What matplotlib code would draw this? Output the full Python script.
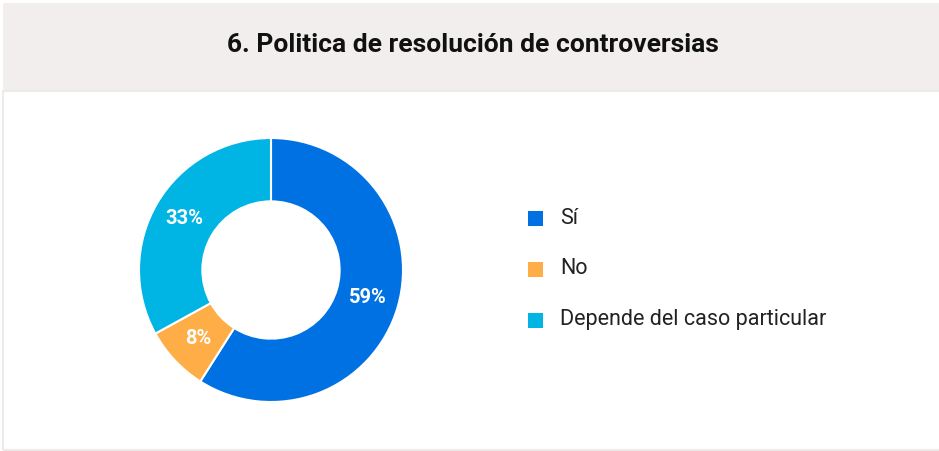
import numpy as np
import matplotlib
import matplotlib.pyplot as plt
from matplotlib.patches import Rectangle

matplotlib.rcParams['font.family'] = ['Roboto', 'DejaVu Sans']

# data
labels = ['Sí', 'No', 'Depende del caso particular']
values = [59, 8, 33]
colors = ['#0071e3', '#ffad46', '#00b4e4']
title = '6. Politica de resolución de controversias'

W, H = 939, 451
fig = plt.figure(figsize=(W / 100, H / 100), dpi=100)
fig.patch.set_facecolor('white')

# header band and thin frame
fig.patches.append(Rectangle((3 / W, (H - 92) / H), 1 - 3 / W, 89 / H,
                             transform=fig.transFigure, facecolor='#f1eeed',
                             edgecolor='none', zorder=0))
fig.patches.append(Rectangle((3 / W, 1 / H), 1, (H - 92) / H,
                             transform=fig.transFigure, facecolor='none',
                             edgecolor='#efeaea', lw=1.5, zorder=0))
fig.text(473 / W, (H - 45) / H, title, ha='center', va='center',
         fontsize=19, fontweight='bold', color='#111111')

# donut
ax = fig.add_axes([139 / W, 49 / H, 264 / W, 264 / H])
wedges, _ = ax.pie(values, colors=colors, startangle=90, counterclock=False,
                   radius=1, wedgeprops=dict(width=0.48, edgecolor='white', linewidth=1.5))
ang = 90.0
for v, w in zip(values, wedges):
    mid = np.deg2rad(ang - v * 3.6 / 2)
    ang -= v * 3.6
    r = 0.76
    ax.text(r * np.cos(mid), r * np.sin(mid), f'{v}%', ha='center', va='center',
            color='white', fontsize=14.5, fontweight='bold')
ax.set_xlim(-1, 1)
ax.set_ylim(-1, 1)
ax.set_aspect('equal')
ax.axis('off')

# legend
for i, (lab, c) in enumerate(zip(labels, colors)):
    y = (H - (218 + 51 * i)) / H
    fig.patches.append(Rectangle((528 / W, y - 7.5 / H), 15 / W, 15 / H,
                                 transform=fig.transFigure, facecolor=c, edgecolor='none'))
    fig.text(560 / W, y, lab, ha='left', va='center', fontsize=15.5, color='#222222')

plt.savefig('out.png', dpi=100)
